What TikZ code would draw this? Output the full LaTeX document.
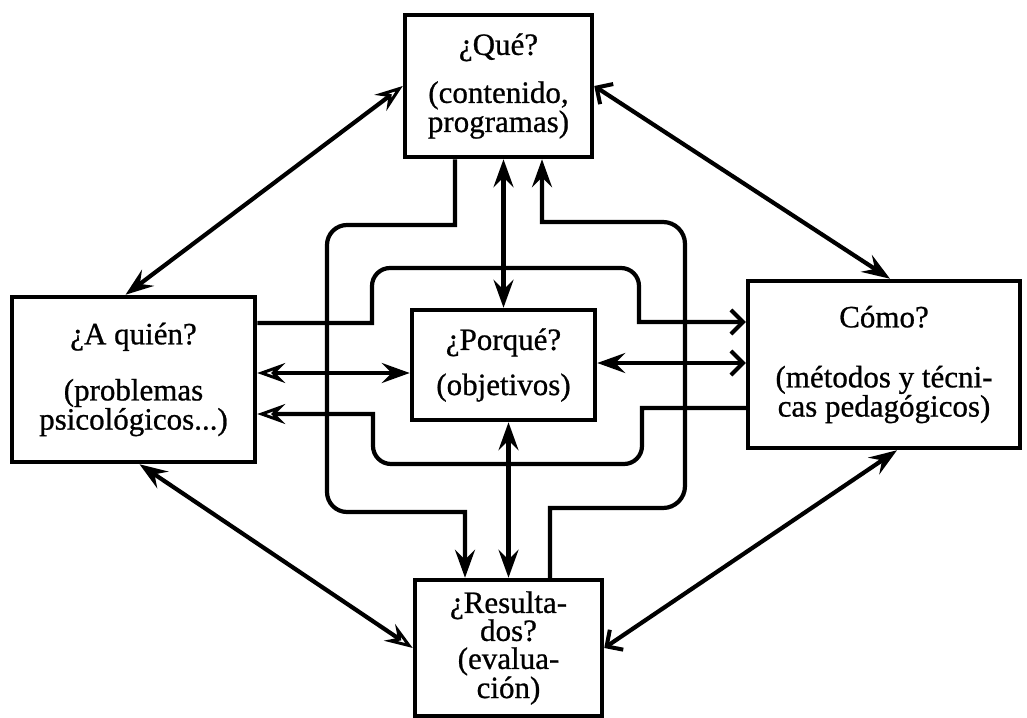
\documentclass[tikz,border=0pt]{standalone}
\usepackage{fontspec}
\setmainfont{Liberation Serif}[UprightFeatures={FakeBold=0.8}]
\usetikzlibrary{arrows.meta,calc}
\begin{document}
\begin{tikzpicture}[x=1pt,y=-1pt,
  box/.style={draw,line width=4.5pt,align=center,inner sep=0pt,
    font=\fontsize{31}{28}\selectfont},
  conn/.style={line width=4.2pt},
  ff/.style={arrows={Stealth[length=28pt,width=20pt,inset=10pt]-Stealth[length=28pt,width=20pt,inset=10pt]}},
  tf/.style={arrows={-Stealth[length=28pt,width=20pt,inset=10pt]}},
  to/.style={arrows={-Stealth[open,length=28pt,width=20pt,inset=10pt,line width=3pt]}},
  tb/.style={arrows={-Straight Barb[length=12pt,width=24pt,line width=4pt]}},
  of/.style={arrows={Stealth[open,length=28pt,width=20pt,inset=10pt,line width=3pt]-Stealth[length=28pt,width=20pt,inset=10pt]}},
  fo/.style={arrows={Stealth[length=28pt,width=20pt,inset=10pt]-Stealth[open,length=28pt,width=20pt,inset=10pt,line width=3pt]}},
  bf/.style={arrows={Straight Barb[length=12pt,width=24pt,line width=4pt]-Stealth[length=28pt,width=20pt,inset=10pt]}},
  fb/.style={arrows={Stealth[length=28pt,width=20pt,inset=10pt]-Straight Barb[length=12pt,width=24pt,line width=4pt]}}]
\useasboundingbox (0,0) rectangle (1027,717);

\node[box,minimum width=187pt,minimum height=142pt] (que) at (498.5,86)
  {¿Qué?\\[20pt](contenido,\\programas)};
\node[box,minimum width=183pt,minimum height=110pt] (porque) at (503.5,365)
  {¿Porqué?\\[16pt](objetivos)};
\node[box,minimum width=243pt,minimum height=165pt] (aquien) at (133.5,379.5)
  {¿A quién?\\[27pt](problemas\\psicológicos...)};
\node[box,minimum width=272pt,minimum height=167pt] (como) at (884,364.5)
  {Cómo?\\[32pt](métodos y técni-\\cas pedagógicos)};
\node[box,minimum width=187pt,minimum height=136pt] (res) at (508.5,648)
  {¿Resulta-\\dos?\\(evalua-\\ción)};

% outer diagonals
\draw[conn,of] (que.west) -- ([xshift=-8pt]aquien.north);
\draw[conn,bf] (que.east) -- ([xshift=6pt]como.north);
\draw[conn,fo] ([xshift=6pt]aquien.south) -- (res.west);
\draw[conn,fb] ([xshift=13pt]como.south) -- (res.east);

% verticals through the centre
\draw[conn,ff] (porque.north |- que.south) -- (porque.north);
\draw[conn,ff] (res.north |- porque.south) -- (res.north);

% outer loops
\draw[conn,tf] ([xshift=-43.5pt]que.south) -- (455,225) [rounded corners=20pt]
  -- (327,225) -- (327,512) [sharp corners] -- (465,512) -- ([xshift=-43.5pt]res.north);
\draw[conn,tf] ([xshift=41.5pt]res.north) -- (550,508) [rounded corners=22pt]
  -- (685,508) -- (685,222) [sharp corners] -- (542,222) -- ([xshift=43.5pt]que.south);

% inner loops
\draw[conn,tb] (aquien.east |- 0,323) -- (372,323) [rounded corners=18pt]
  -- (372,268) -- (639,268) [sharp corners] -- (639,322) -- (como.west |- 0,322);
\draw[conn,to] (como.west |- 0,408) -- (642,408) [rounded corners=18pt]
  -- (642,464) -- (373,464) [sharp corners] -- (373,414) -- (aquien.east |- 0,414);

% horizontal links
\draw[conn,of] (aquien.east |- 0,373) -- (porque.west |- 0,373);
\draw[conn,fb] (porque.east |- 0,363) -- (como.west |- 0,363);
\end{tikzpicture}
\end{document}
